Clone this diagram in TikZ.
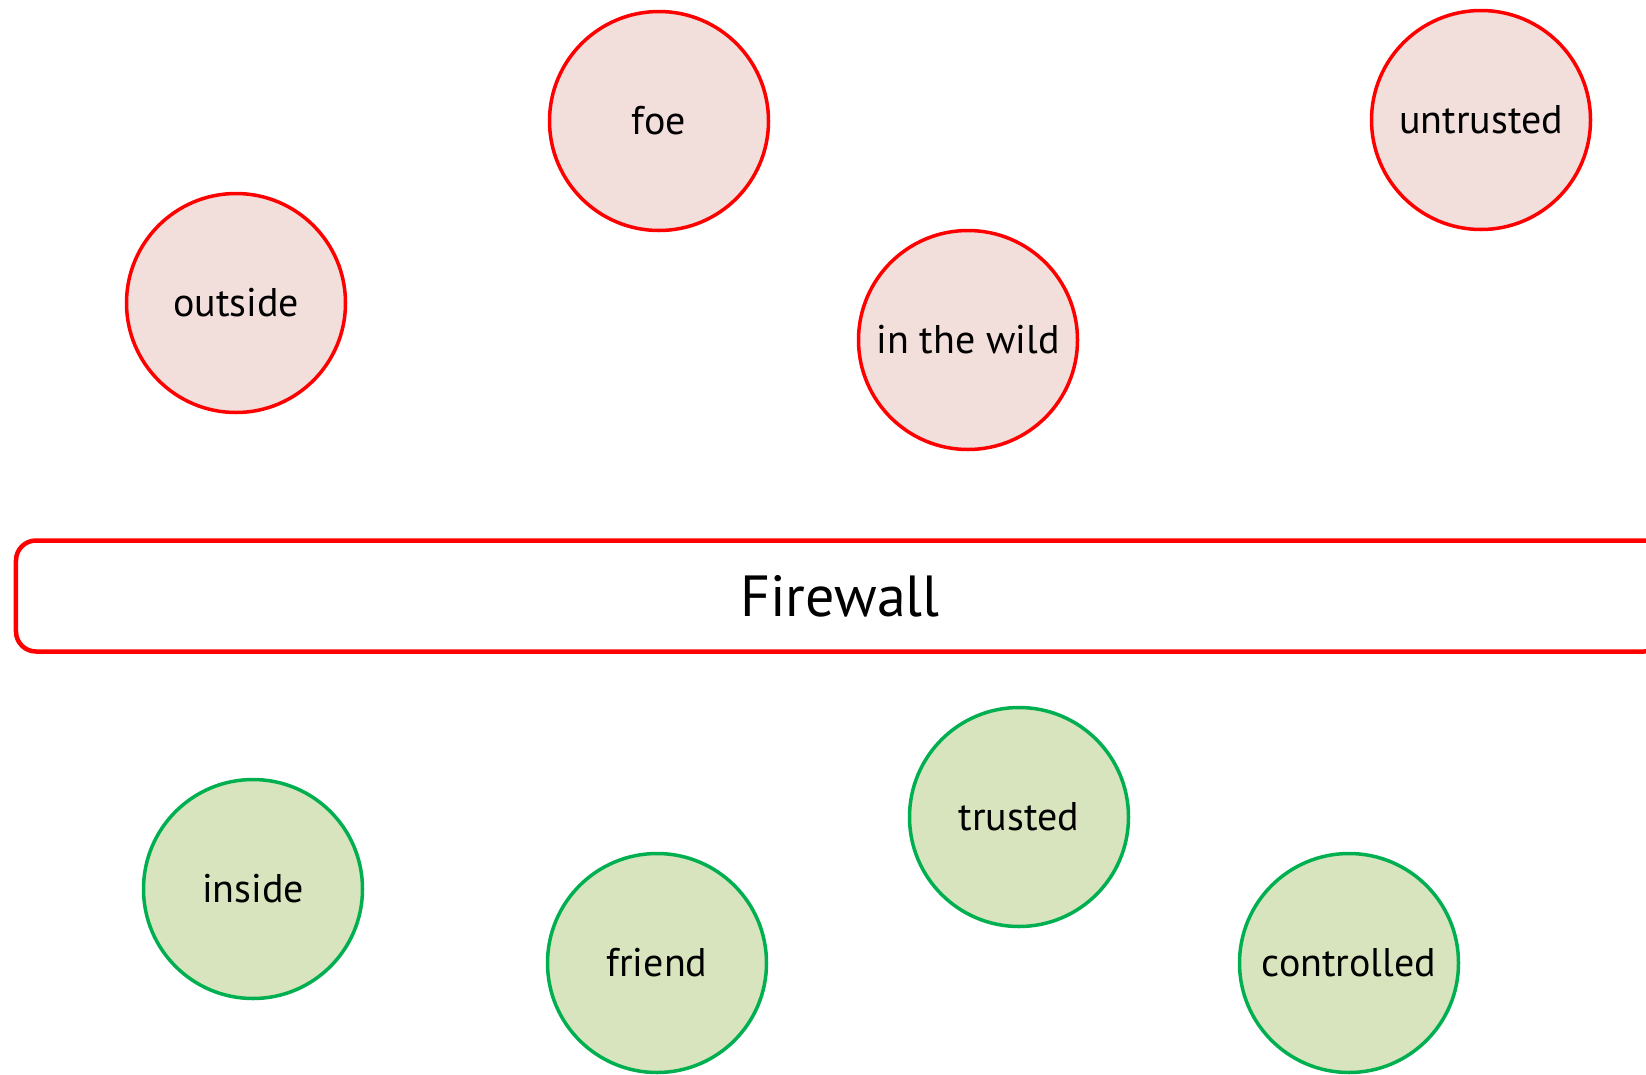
\documentclass[tikz,border=0pt]{standalone}
\usepackage{fontspec}
\setmainfont{PT Sans}
\definecolor{redline}{HTML}{FF0000}
\definecolor{redfill}{HTML}{F2DEDB}
\definecolor{greenline}{HTML}{00B050}
\definecolor{greenfill}{HTML}{D7E4BD}
\begin{document}
\begin{tikzpicture}[x=1bp,y=-1bp,
  zone/.style={circle,line width=3.5bp,minimum size=219bp,inner sep=0pt,font=\fontsize{40bp}{44bp}\selectfont},
  outzone/.style={zone,draw=redline,fill=redfill},
  inzone/.style={zone,draw=greenline,fill=greenfill},
  wall/.style={draw=redline,line width=4.5bp,rounded corners=20bp,minimum width=1648bp,minimum height=111bp,inner sep=0pt,font=\fontsize{58bp}{62bp}\selectfont}]
\useasboundingbox (0,0) rectangle (1646,1074);
\clip (0,0) rectangle (1646,1074);
\node[outzone] (foe) at (659,121) {foe};
\node[outzone] (untrusted) at (1481,120) {untrusted};
\node[outzone] (outside) at (236,303) {outside};
\node[outzone] (wild) at (968,340) {in the wild};
\node[wall] (firewall) at (840,596) {Firewall};
\node[inzone] (inside) at (253,889) {inside};
\node[inzone] (friend) at (657,963) {friend};
\node[inzone] (trusted) at (1019,817) {trusted};
\node[inzone] (controlled) at (1349,963) {controlled};
\end{tikzpicture}
\end{document}
